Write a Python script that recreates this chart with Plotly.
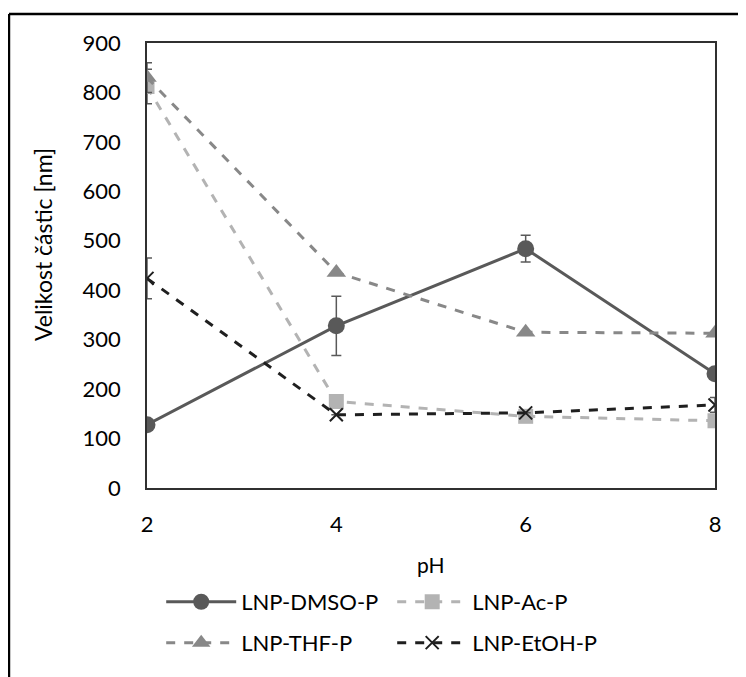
import plotly.graph_objects as go

ph = [2, 4, 6, 8]
dmso = [128, 328, 484, 231]
dmso_err = [0, 60, 27, 0]
ac = [812, 175, 145, 136]
ac_err = [35, 0, 0, 0]
thf = [830, 436, 315, 313]
thf_err = [30, 0, 0, 0]
etoh = [424, 148, 152, 168]
etoh_err = [41, 0, 0, 15]

FONT = "Lato"

fig = go.Figure()

def add(name, y, err, color, dash, symbol, msize, legend, mline=None):
    marker = dict(symbol=symbol, size=msize, color=color)
    if mline:
        marker["line"] = dict(color=color, width=mline)
    fig.add_trace(go.Scatter(
        x=ph, y=y, name=name, mode="lines+markers",
        line=dict(color=color, width=3, dash=dash),
        marker=marker, legend=legend,
        error_y=dict(type="data", array=err, visible=True, color="#595959",
                     thickness=1.5, width=5),
    ))

add("LNP-DMSO-P", dmso, dmso_err, "#595959", "solid", "circle", 17, "legend")
add("LNP-Ac-P", ac, ac_err, "#b3b3b3", "dash", "square", 15, "legend")
add("LNP-THF-P", thf, thf_err, "#888888", "dash", "triangle-up", 17, "legend2")
add("LNP-EtOH-P", etoh, etoh_err, "#1f1f1f", "dash", "x-thin", 13, "legend2", 2)

leg = dict(orientation="h", x=0.025, xanchor="left", yanchor="middle",
           itemwidth=70, entrywidth=146, entrywidthmode="pixels",
           font=dict(family=FONT, size=22), bgcolor="rgba(0,0,0,0)")

fig.update_layout(
    width=738, height=669,
    margin=dict(l=139, r=31, t=35, b=189, autoexpand=False),
    paper_bgcolor="white", plot_bgcolor="white",
    font=dict(family=FONT, size=22, color="#000000"),
    showlegend=True,
    legend=dict(leg, y=-0.256),
    legend2=dict(leg, y=-0.348),
    xaxis=dict(range=[2, 8], tickvals=ph, showgrid=False, zeroline=False,
               showline=True, mirror=True, linecolor="#303030", linewidth=1.5,
               ticks="", tickfont=dict(size=22), ticklabelstandoff=16,
               automargin=False),
    yaxis=dict(range=[0, 900], dtick=100, showgrid=False, zeroline=False,
               showline=True, mirror=True, linecolor="#303030", linewidth=1.5,
               ticks="", tickfont=dict(size=22), ticklabelstandoff=20,
               automargin=False),
    annotations=[
        dict(text="Velikost částic [nm]", xref="paper", yref="paper", x=-0.183, y=0.546,
             xanchor="center", yanchor="middle", textangle=-90, showarrow=False,
             font=dict(size=23)),
        dict(text="pH", xref="paper", yref="paper", x=0.5, y=-0.173,
             xanchor="center", yanchor="middle", showarrow=False,
             font=dict(size=21)),
    ],
    shapes=[
        dict(type="line", xref="paper", yref="paper", x0=-0.243, x1=1.06, y0=1.065, y1=1.065,
             line=dict(color="black", width=2.5)),
        dict(type="line", xref="paper", yref="paper", x0=-0.243, x1=-0.243, y0=1.065, y1=-0.43,
             line=dict(color="black", width=2.5)),
    ],
)

fig.write_html("out.html")
